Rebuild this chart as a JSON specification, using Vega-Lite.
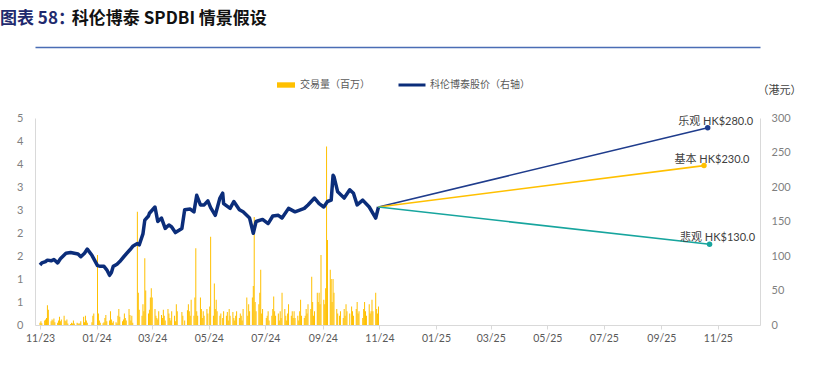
{
"$schema": "https://vega.github.io/schema/vega-lite/v6.json",
"width": 725, "height": 207,
"autosize": {"type": "none"},
"padding": {"left": 35, "top": 118, "right": 65, "bottom": 52},
"background": "white",
"config": {"view": {"stroke": null}, "font": "Lato"},
"title": {"text": "图表 58：", "subtitle": "\u200b\u3000\u3000\u3000\u3000\u00a0科伦博泰 SPDBI 情景假设", "anchor": "start", "frame": "group", "dx": -35, "offset": 19, "font": "Noto Sans CJK SC", "fontSize": 17, "fontWeight": "bold", "color": "#1F2A6E", "subtitleFont": "Noto Sans CJK SC", "subtitleFontSize": 17, "subtitleFontWeight": "bold", "subtitleColor": "#111111", "subtitlePadding": -17},
"datasets": {
"vol": [
{"d":"2023-11-01","v":0.05},{"d":"2023-11-02","v":0.08},{"d":"2023-11-03","v":0.04},{"d":"2023-11-06","v":0.1},{"d":"2023-11-07","v":0.12},{"d":"2023-11-08","v":0.15},{"d":"2023-11-09","v":0.43},{"d":"2023-11-10","v":0.33},{"d":"2023-11-13","v":0.08},{"d":"2023-11-14","v":0.12},{"d":"2023-11-15","v":0.1},{"d":"2023-11-16","v":0.14},{"d":"2023-11-17","v":0.06},{"d":"2023-11-20","v":0.05},{"d":"2023-11-21","v":0.1},{"d":"2023-11-22","v":0.18},{"d":"2023-11-23","v":0.08},{"d":"2023-11-24","v":0.12},{"d":"2023-11-27","v":0.2},{"d":"2023-11-28","v":0.1},{"d":"2023-11-29","v":0.08},{"d":"2023-11-30","v":0.12},
{"d":"2023-12-01","v":0.03},{"d":"2023-12-04","v":0.02},{"d":"2023-12-05","v":0.05},{"d":"2023-12-06","v":0.03},{"d":"2023-12-07","v":0.1},{"d":"2023-12-08","v":0.03},{"d":"2023-12-11","v":0.05},{"d":"2023-12-12","v":0.04},{"d":"2023-12-13","v":0.02},{"d":"2023-12-14","v":0.04},{"d":"2023-12-15","v":0.08},{"d":"2023-12-18","v":0.18},{"d":"2023-12-19","v":0.06},{"d":"2023-12-20","v":0.2},{"d":"2023-12-21","v":0.1},{"d":"2023-12-22","v":0.05},{"d":"2023-12-27","v":0.06},{"d":"2023-12-28","v":0.2},{"d":"2023-12-29","v":0.25},
{"d":"2024-01-02","v":1.52},{"d":"2024-01-03","v":0.25},{"d":"2024-01-04","v":0.1},{"d":"2024-01-05","v":0.05},{"d":"2024-01-08","v":0.04},{"d":"2024-01-09","v":0.06},{"d":"2024-01-10","v":0.15},{"d":"2024-01-11","v":0.22},{"d":"2024-01-12","v":0.08},{"d":"2024-01-15","v":0.1},{"d":"2024-01-16","v":0.3},{"d":"2024-01-17","v":0.12},{"d":"2024-01-18","v":0.05},{"d":"2024-01-19","v":0.08},{"d":"2024-01-22","v":0.06},{"d":"2024-01-23","v":0.03},{"d":"2024-01-24","v":0.2},{"d":"2024-01-25","v":0.35},{"d":"2024-01-26","v":0.18},{"d":"2024-01-29","v":0.08},{"d":"2024-01-30","v":0.12},{"d":"2024-01-31","v":0.25},
{"d":"2024-02-01","v":0.15},{"d":"2024-02-02","v":0.1},{"d":"2024-02-05","v":0.35},{"d":"2024-02-06","v":0.22},{"d":"2024-02-07","v":0.1},{"d":"2024-02-08","v":0.2},{"d":"2024-02-09","v":0.05},{"d":"2024-02-14","v":2.46},{"d":"2024-02-15","v":0.7},{"d":"2024-02-16","v":0.33},{"d":"2024-02-19","v":0.2},{"d":"2024-02-20","v":0.45},{"d":"2024-02-21","v":0.3},{"d":"2024-02-22","v":1.45},{"d":"2024-02-23","v":0.75},{"d":"2024-02-26","v":0.25},{"d":"2024-02-27","v":0.33},{"d":"2024-02-28","v":0.6},{"d":"2024-02-29","v":0.8},
{"d":"2024-03-01","v":0.6},{"d":"2024-03-04","v":0.35},{"d":"2024-03-05","v":0.2},{"d":"2024-03-06","v":0.15},{"d":"2024-03-07","v":0.12},{"d":"2024-03-08","v":0.3},{"d":"2024-03-11","v":0.22},{"d":"2024-03-12","v":0.15},{"d":"2024-03-13","v":0.33},{"d":"2024-03-14","v":0.2},{"d":"2024-03-15","v":0.1},{"d":"2024-03-18","v":0.35},{"d":"2024-03-19","v":0.25},{"d":"2024-03-20","v":0.15},{"d":"2024-03-21","v":0.1},{"d":"2024-03-22","v":0.3},{"d":"2024-03-25","v":0.2},{"d":"2024-03-26","v":0.08},{"d":"2024-03-27","v":0.45},{"d":"2024-03-28","v":0.3},
{"d":"2024-04-02","v":0.28},{"d":"2024-04-03","v":0.2},{"d":"2024-04-05","v":0.1},{"d":"2024-04-08","v":0.32},{"d":"2024-04-09","v":0.45},{"d":"2024-04-10","v":0.3},{"d":"2024-04-11","v":0.2},{"d":"2024-04-12","v":0.55},{"d":"2024-04-15","v":0.2},{"d":"2024-04-16","v":0.6},{"d":"2024-04-17","v":1.67},{"d":"2024-04-18","v":0.3},{"d":"2024-04-19","v":0.2},{"d":"2024-04-22","v":0.6},{"d":"2024-04-23","v":0.35},{"d":"2024-04-24","v":0.15},{"d":"2024-04-25","v":0.3},{"d":"2024-04-26","v":0.2},{"d":"2024-04-29","v":0.35},{"d":"2024-04-30","v":0.25},
{"d":"2024-05-02","v":0.4},{"d":"2024-05-03","v":1.92},{"d":"2024-05-06","v":0.2},{"d":"2024-05-07","v":0.9},{"d":"2024-05-08","v":0.35},{"d":"2024-05-09","v":0.55},{"d":"2024-05-10","v":0.3},{"d":"2024-05-13","v":0.2},{"d":"2024-05-14","v":0.25},{"d":"2024-05-16","v":0.15},{"d":"2024-05-17","v":0.3},{"d":"2024-05-20","v":0.2},{"d":"2024-05-21","v":0.28},{"d":"2024-05-22","v":0.1},{"d":"2024-05-23","v":0.35},{"d":"2024-05-24","v":0.2},{"d":"2024-05-27","v":0.28},{"d":"2024-05-28","v":0.15},{"d":"2024-05-29","v":0.1},{"d":"2024-05-30","v":0.2},{"d":"2024-05-31","v":0.3},
{"d":"2024-06-03","v":0.15},{"d":"2024-06-04","v":0.25},{"d":"2024-06-05","v":0.2},{"d":"2024-06-06","v":0.1},{"d":"2024-06-07","v":0.35},{"d":"2024-06-11","v":0.6},{"d":"2024-06-12","v":0.2},{"d":"2024-06-13","v":0.45},{"d":"2024-06-14","v":0.3},{"d":"2024-06-17","v":0.6},{"d":"2024-06-18","v":0.85},{"d":"2024-06-19","v":2.35},{"d":"2024-06-20","v":0.5},{"d":"2024-06-21","v":0.3},{"d":"2024-06-24","v":0.45},{"d":"2024-06-25","v":0.7},{"d":"2024-06-26","v":1.2},{"d":"2024-06-27","v":0.25},{"d":"2024-06-28","v":0.35},
{"d":"2024-07-02","v":0.15},{"d":"2024-07-03","v":0.2},{"d":"2024-07-04","v":0.3},{"d":"2024-07-05","v":0.1},{"d":"2024-07-08","v":0.2},{"d":"2024-07-09","v":0.35},{"d":"2024-07-10","v":0.62},{"d":"2024-07-11","v":0.3},{"d":"2024-07-12","v":0.2},{"d":"2024-07-15","v":0.25},{"d":"2024-07-16","v":0.1},{"d":"2024-07-17","v":0.3},{"d":"2024-07-18","v":0.15},{"d":"2024-07-19","v":0.7},{"d":"2024-07-22","v":0.35},{"d":"2024-07-23","v":0.2},{"d":"2024-07-24","v":0.1},{"d":"2024-07-25","v":0.25},{"d":"2024-07-26","v":0.45},{"d":"2024-07-29","v":0.2},{"d":"2024-07-30","v":0.3},{"d":"2024-07-31","v":0.15},
{"d":"2024-08-01","v":0.3},{"d":"2024-08-02","v":0.15},{"d":"2024-08-05","v":0.2},{"d":"2024-08-06","v":0.1},{"d":"2024-08-07","v":0.3},{"d":"2024-08-08","v":0.55},{"d":"2024-08-09","v":0.2},{"d":"2024-08-12","v":0.15},{"d":"2024-08-13","v":0.2},{"d":"2024-08-14","v":0.35},{"d":"2024-08-15","v":0.25},{"d":"2024-08-16","v":0.45},{"d":"2024-08-19","v":0.35},{"d":"2024-08-20","v":1.05},{"d":"2024-08-21","v":0.5},{"d":"2024-08-22","v":0.2},{"d":"2024-08-23","v":0.3},{"d":"2024-08-26","v":0.7},{"d":"2024-08-27","v":0.5},{"d":"2024-08-28","v":0.7},{"d":"2024-08-29","v":0.45},{"d":"2024-08-30","v":1.52},
{"d":"2024-09-02","v":0.55},{"d":"2024-09-03","v":0.45},{"d":"2024-09-04","v":0.8},{"d":"2024-09-05","v":3.88},{"d":"2024-09-06","v":1.85},{"d":"2024-09-09","v":1.2},{"d":"2024-09-10","v":1.0},{"d":"2024-09-11","v":0.5},{"d":"2024-09-12","v":1.0},{"d":"2024-09-13","v":0.7},{"d":"2024-09-16","v":0.35},{"d":"2024-09-17","v":0.25},{"d":"2024-09-19","v":0.2},{"d":"2024-09-20","v":0.3},{"d":"2024-09-23","v":0.15},{"d":"2024-09-24","v":0.35},{"d":"2024-09-25","v":0.2},{"d":"2024-09-26","v":0.45},{"d":"2024-09-27","v":0.3},{"d":"2024-09-30","v":0.25},
{"d":"2024-10-02","v":0.4},{"d":"2024-10-03","v":0.3},{"d":"2024-10-04","v":0.2},{"d":"2024-10-07","v":0.35},{"d":"2024-10-08","v":0.5},{"d":"2024-10-09","v":0.25},{"d":"2024-10-10","v":0.3},{"d":"2024-10-14","v":0.15},{"d":"2024-10-15","v":0.35},{"d":"2024-10-16","v":0.5},{"d":"2024-10-17","v":0.3},{"d":"2024-10-18","v":0.2},{"d":"2024-10-21","v":0.45},{"d":"2024-10-22","v":0.25},{"d":"2024-10-23","v":0.3},{"d":"2024-10-24","v":0.55},{"d":"2024-10-25","v":0.3},{"d":"2024-10-28","v":0.7},{"d":"2024-10-29","v":0.35},{"d":"2024-10-30","v":0.25},{"d":"2024-10-31","v":0.4}
],
"px": [
{"d":"2023-11-01","p":87},{"d":"2023-11-03","p":90},{"d":"2023-11-07","p":92},{"d":"2023-11-09","p":94},{"d":"2023-11-13","p":93},{"d":"2023-11-16","p":95},{"d":"2023-11-20","p":90},{"d":"2023-11-23","p":96},{"d":"2023-11-29","p":104},{"d":"2023-12-04","p":105},{"d":"2023-12-08","p":104},{"d":"2023-12-12","p":103},{"d":"2023-12-15","p":99},{"d":"2023-12-19","p":104},{"d":"2023-12-22","p":110},{"d":"2023-12-27","p":101},
{"d":"2024-01-02","p":86},{"d":"2024-01-05","p":85},{"d":"2024-01-09","p":85},{"d":"2024-01-12","p":80},{"d":"2024-01-15","p":72},{"d":"2024-01-17","p":76},{"d":"2024-01-19","p":85},{"d":"2024-01-23","p":88},{"d":"2024-01-26","p":92},{"d":"2024-01-31","p":100},{"d":"2024-02-06","p":109},{"d":"2024-02-09","p":114},{"d":"2024-02-14","p":118},{"d":"2024-02-16","p":116},{"d":"2024-02-20","p":132},{"d":"2024-02-22","p":152},{"d":"2024-02-26","p":158},{"d":"2024-02-27","p":162},
{"d":"2024-03-04","p":171},{"d":"2024-03-07","p":150},{"d":"2024-03-11","p":155},{"d":"2024-03-15","p":140},{"d":"2024-03-19","p":145},{"d":"2024-03-22","p":142},{"d":"2024-03-26","p":134},{"d":"2024-04-02","p":140},{"d":"2024-04-05","p":167},{"d":"2024-04-11","p":168},{"d":"2024-04-15","p":164},{"d":"2024-04-18","p":188},{"d":"2024-04-22","p":174},{"d":"2024-04-26","p":174},{"d":"2024-04-30","p":180},
{"d":"2024-05-03","p":170},{"d":"2024-05-08","p":159},{"d":"2024-05-13","p":184},{"d":"2024-05-16","p":191},{"d":"2024-05-17","p":176},{"d":"2024-05-24","p":169},{"d":"2024-05-28","p":179},{"d":"2024-06-03","p":167},{"d":"2024-06-07","p":164},{"d":"2024-06-14","p":155},{"d":"2024-06-18","p":133},{"d":"2024-06-21","p":150},{"d":"2024-06-28","p":153},
{"d":"2024-07-04","p":147},{"d":"2024-07-09","p":158},{"d":"2024-07-15","p":159},{"d":"2024-07-19","p":155},{"d":"2024-07-26","p":169},{"d":"2024-08-02","p":164},{"d":"2024-08-12","p":169},{"d":"2024-08-16","p":174},{"d":"2024-08-23","p":184},{"d":"2024-08-28","p":176},
{"d":"2024-09-02","p":171},{"d":"2024-09-06","p":179},{"d":"2024-09-10","p":181},{"d":"2024-09-12","p":217},{"d":"2024-09-13","p":215},{"d":"2024-09-17","p":193},{"d":"2024-09-24","p":184},{"d":"2024-09-30","p":196},{"d":"2024-10-04","p":191},{"d":"2024-10-08","p":174},{"d":"2024-10-14","p":181},{"d":"2024-10-21","p":171},{"d":"2024-10-28","p":155},{"d":"2024-10-31","p":171}
],
"sc": [
{"s":"乐观","d":"2024-10-31","p":171},{"s":"乐观","d":"2025-10-21","p":286,"lab":"乐观 HK$280.0"},
{"s":"基本","d":"2024-10-31","p":171},{"s":"基本","d":"2025-10-17","p":231,"lab":"基本 HK$230.0"},
{"s":"悲观","d":"2024-10-31","p":171},{"s":"悲观","d":"2025-10-23","p":117,"lab":"悲观 HK$130.0"}
]
},
"layer": [
{"data": {"name": "vol"},
 "mark": {"type": "bar", "size": 1},
 "encoding": {
  "x": {"field": "d", "type": "temporal",
   "scale": {"domain": [{"year": 2023, "month": 11, "date": 1}, {"year": 2025, "month": 12, "date": 11}]},
   "axis": {"orient": "bottom", "title": null, "format": "%m/%y", "grid": false,
    "values": [{"year":2023,"month":11,"date":1},{"year":2024,"month":1,"date":1},{"year":2024,"month":3,"date":1},{"year":2024,"month":5,"date":1},{"year":2024,"month":7,"date":1},{"year":2024,"month":9,"date":1},{"year":2024,"month":11,"date":1},{"year":2025,"month":1,"date":1},{"year":2025,"month":3,"date":1},{"year":2025,"month":5,"date":1},{"year":2025,"month":7,"date":1},{"year":2025,"month":9,"date":1},{"year":2025,"month":11,"date":1}],
    "domainColor": "#d9d9d9", "tickColor": "#d9d9d9", "tickSize": 4, "labelPadding": 4, "labelColor": "#595959", "labelFontSize": 10.5, "labelFont": "Lato", "labelFlush": false, "labelOverlap": false}},
  "y": {"field": "v", "type": "quantitative", "scale": {"domain": [0, 4.5], "nice": false},
   "axis": {"orient": "left", "title": null, "grid": false, "ticks": false, "values": [0,0.5,1,1.5,2,2.5,3,3.5,4,4.5], "labelExpr": "toString(floor(datum.value + 0.5))", "domainColor": "#d9d9d9", "labelPadding": 12, "labelColor": "#7f7f7f", "labelFontSize": 11, "labelFont": "Lato"}},
  "fill": {"datum": "交易量（百万）", "scale": {"range": ["#FFC000"]},
   "legend": {"orient": "none", "legendX": 242, "legendY": -42, "title": null, "symbolType": "M-1,-0.3H1V0.3H-1Z", "symbolSize": 324, "symbolStrokeWidth": 0, "labelFont": "Noto Sans CJK SC", "labelFontSize": 10, "labelColor": "#595959", "labelOffset": 5}}
 }},
{"data": {"name": "px"},
 "mark": {"type": "line", "strokeWidth": 3.5, "strokeJoin": "round"},
 "encoding": {
  "x": {"field": "d", "type": "temporal",
   "axis": {"orient": "top", "offset": 71, "title": null, "labels": false, "ticks": false, "grid": false, "domainColor": "#4A6DB5", "domainWidth": 1.5}},
  "y": {"field": "p", "type": "quantitative", "scale": {"domain": [0, 300], "nice": false},
   "axis": {"orient": "right", "title": "（港元）", "titleAngle": 0, "titleX": 19, "titleY": -28, "titleAlign": "center", "titleBaseline": "middle", "titleFont": "Noto Sans CJK SC", "titleFontSize": 11, "titleFontWeight": "normal", "titleColor": "#404040", "grid": false, "ticks": false, "values": [0,50,100,150,200,250,300], "domainColor": "#d9d9d9", "labelPadding": 11, "labelColor": "#7f7f7f", "labelFontSize": 11, "labelFont": "Lato"}},
  "stroke": {"datum": "科伦博泰股价（右轴）", "scale": {"range": ["#0B2D7A"]},
   "legend": {"orient": "none", "legendX": 362, "legendY": -48, "title": null, "symbolSize": 729, "symbolStrokeWidth": 3, "labelFont": "Noto Sans CJK SC", "labelFontSize": 10, "labelColor": "#595959", "labelOffset": 3}}
 }},
{"data": {"name": "sc"},
 "mark": {"type": "line", "strokeWidth": 1.6},
 "encoding": {
  "x": {"field": "d", "type": "temporal", "axis": null},
  "y": {"field": "p", "type": "quantitative", "scale": {"domain": [0, 300], "nice": false}, "axis": null},
  "color": {"field": "s", "type": "nominal", "scale": {"domain": ["乐观", "基本", "悲观"], "range": ["#1F3C8C", "#FFC000", "#17A59E"]}, "legend": null}
 }},
{"data": {"name": "sc"},
 "transform": [{"filter": "datum.lab != null"}],
 "mark": {"type": "point", "filled": true, "size": 30, "opacity": 1},
 "encoding": {
  "x": {"field": "d", "type": "temporal", "axis": null},
  "y": {"field": "p", "type": "quantitative", "scale": {"domain": [0, 300], "nice": false}, "axis": null},
  "color": {"field": "s", "type": "nominal", "legend": null}
 }},
{"data": {"name": "sc"},
 "transform": [{"filter": "datum.lab != null"}],
 "mark": {"type": "text", "align": "center", "baseline": "bottom", "dx": 8, "dy": -1, "fontSize": 11, "font": "Lato, Noto Sans CJK SC", "color": "#404040"},
 "encoding": {
  "x": {"field": "d", "type": "temporal", "axis": null},
  "y": {"field": "p", "type": "quantitative", "scale": {"domain": [0, 300], "nice": false}, "axis": null},
  "text": {"field": "lab"}
 }}
],
"resolve": {"scale": {"y": "independent"}, "axis": {"x": "independent", "y": "independent"}}
}
